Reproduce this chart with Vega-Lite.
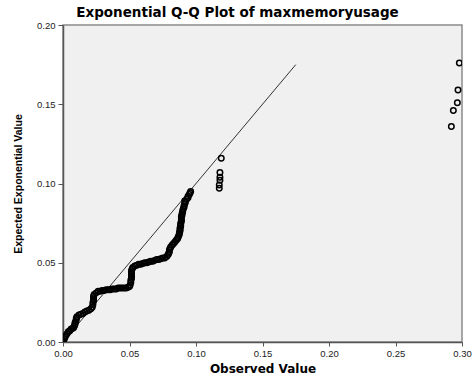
{
  "$schema": "https://vega.github.io/schema/vega-lite/v6.json",
  "width": 399,
  "height": 317,
  "autosize": {"type": "none"},
  "padding": {"left": 63, "top": 25, "right": 10, "bottom": 35},
  "background": "white",
  "title": {
    "text": "Exponential Q-Q Plot of maxmemoryusage",
    "font": "DejaVu Sans",
    "fontSize": 13.5,
    "fontWeight": "bold",
    "color": "#000000",
    "anchor": "middle",
    "dx": -25,
    "offset": 1
  },
  "config": {
    "view": {"fill": "#f0f0f0", "stroke": "#8a8a8a", "strokeWidth": 1.5},
    "axis": {
      "labelFont": "Liberation Sans",
      "labelFontSize": 9.5,
      "labelColor": "#222222",
      "titleFont": "DejaVu Sans",
      "titleFontSize": 12,
      "titleFontWeight": "bold",
      "titleColor": "#000000",
      "domainColor": "#555555",
      "domainWidth": 1.5,
      "tickColor": "#555555",
      "tickSize": 4,
      "grid": false
    }
  },
  "datasets": {
    "pts": [
      {"obs": 0.000, "exp": 0.000}, {"obs": 0.0005, "exp": 0.001}, {"obs": 0.001, "exp": 0.002}, {"obs": 0.0015, "exp": 0.003},
      {"obs": 0.002, "exp": 0.004}, {"obs": 0.003, "exp": 0.005}, {"obs": 0.004, "exp": 0.0065},
      {"obs": 0.005, "exp": 0.007}, {"obs": 0.006, "exp": 0.008}, {"obs": 0.007, "exp": 0.0085}, {"obs": 0.008, "exp": 0.009},
      {"obs": 0.0085, "exp": 0.010}, {"obs": 0.009, "exp": 0.011}, {"obs": 0.009, "exp": 0.012}, {"obs": 0.0095, "exp": 0.013},
      {"obs": 0.010, "exp": 0.014}, {"obs": 0.010, "exp": 0.015}, {"obs": 0.0105, "exp": 0.016},
      {"obs": 0.012, "exp": 0.017}, {"obs": 0.0135, "exp": 0.0175}, {"obs": 0.015, "exp": 0.018}, {"obs": 0.0165, "exp": 0.019},
      {"obs": 0.018, "exp": 0.0195}, {"obs": 0.0195, "exp": 0.020}, {"obs": 0.021, "exp": 0.021},
      {"obs": 0.022, "exp": 0.022}, {"obs": 0.0225, "exp": 0.0235}, {"obs": 0.0225, "exp": 0.025}, {"obs": 0.023, "exp": 0.026},
      {"obs": 0.023, "exp": 0.027}, {"obs": 0.023, "exp": 0.028}, {"obs": 0.023, "exp": 0.029}, {"obs": 0.0235, "exp": 0.030},
      {"obs": 0.025, "exp": 0.031}, {"obs": 0.0265, "exp": 0.032}, {"obs": 0.028, "exp": 0.032}, {"obs": 0.0295, "exp": 0.0325},
      {"obs": 0.031, "exp": 0.0325}, {"obs": 0.0325, "exp": 0.033}, {"obs": 0.034, "exp": 0.033}, {"obs": 0.0355, "exp": 0.033},
      {"obs": 0.037, "exp": 0.0335}, {"obs": 0.0385, "exp": 0.0335}, {"obs": 0.040, "exp": 0.0335}, {"obs": 0.0415, "exp": 0.034},
      {"obs": 0.043, "exp": 0.034}, {"obs": 0.0445, "exp": 0.034}, {"obs": 0.046, "exp": 0.034}, {"obs": 0.0475, "exp": 0.034},
      {"obs": 0.049, "exp": 0.0345}, {"obs": 0.050, "exp": 0.035},
      {"obs": 0.0505, "exp": 0.036}, {"obs": 0.051, "exp": 0.0375}, {"obs": 0.051, "exp": 0.039}, {"obs": 0.0515, "exp": 0.040},
      {"obs": 0.0515, "exp": 0.041}, {"obs": 0.0515, "exp": 0.042}, {"obs": 0.0515, "exp": 0.043}, {"obs": 0.0515, "exp": 0.044},
      {"obs": 0.0515, "exp": 0.045}, {"obs": 0.052, "exp": 0.046}, {"obs": 0.0525, "exp": 0.047},
      {"obs": 0.054, "exp": 0.048}, {"obs": 0.0555, "exp": 0.0485}, {"obs": 0.057, "exp": 0.049}, {"obs": 0.0585, "exp": 0.049},
      {"obs": 0.060, "exp": 0.0495}, {"obs": 0.0615, "exp": 0.050}, {"obs": 0.063, "exp": 0.050}, {"obs": 0.0645, "exp": 0.0505},
      {"obs": 0.066, "exp": 0.051}, {"obs": 0.0675, "exp": 0.051}, {"obs": 0.069, "exp": 0.0515}, {"obs": 0.0705, "exp": 0.052},
      {"obs": 0.072, "exp": 0.052}, {"obs": 0.0735, "exp": 0.0525}, {"obs": 0.075, "exp": 0.053}, {"obs": 0.0765, "exp": 0.053},
      {"obs": 0.078, "exp": 0.054},
      {"obs": 0.079, "exp": 0.055}, {"obs": 0.0795, "exp": 0.056}, {"obs": 0.080, "exp": 0.057}, {"obs": 0.080, "exp": 0.058},
      {"obs": 0.0805, "exp": 0.059}, {"obs": 0.081, "exp": 0.060},
      {"obs": 0.082, "exp": 0.061}, {"obs": 0.083, "exp": 0.062}, {"obs": 0.084, "exp": 0.063}, {"obs": 0.085, "exp": 0.064},
      {"obs": 0.086, "exp": 0.065}, {"obs": 0.0865, "exp": 0.066},
      {"obs": 0.087, "exp": 0.067}, {"obs": 0.0875, "exp": 0.068}, {"obs": 0.0875, "exp": 0.069}, {"obs": 0.088, "exp": 0.070},
      {"obs": 0.088, "exp": 0.071}, {"obs": 0.088, "exp": 0.072}, {"obs": 0.0885, "exp": 0.073}, {"obs": 0.0885, "exp": 0.074},
      {"obs": 0.0885, "exp": 0.075}, {"obs": 0.089, "exp": 0.076}, {"obs": 0.089, "exp": 0.077}, {"obs": 0.089, "exp": 0.078},
      {"obs": 0.089, "exp": 0.079}, {"obs": 0.0895, "exp": 0.080}, {"obs": 0.0895, "exp": 0.081}, {"obs": 0.090, "exp": 0.082},
      {"obs": 0.090, "exp": 0.083}, {"obs": 0.0905, "exp": 0.084}, {"obs": 0.091, "exp": 0.085}, {"obs": 0.091, "exp": 0.086},
      {"obs": 0.0915, "exp": 0.087}, {"obs": 0.092, "exp": 0.088}, {"obs": 0.0915, "exp": 0.089}, {"obs": 0.093, "exp": 0.090},
      {"obs": 0.094, "exp": 0.091}, {"obs": 0.094, "exp": 0.092}, {"obs": 0.095, "exp": 0.093}, {"obs": 0.0955, "exp": 0.094},
      {"obs": 0.096, "exp": 0.095},
      {"obs": 0.119, "exp": 0.116}, {"obs": 0.118, "exp": 0.107}, {"obs": 0.118, "exp": 0.104}, {"obs": 0.118, "exp": 0.102},
      {"obs": 0.1175, "exp": 0.099}, {"obs": 0.1175, "exp": 0.097},
      {"obs": 0.298, "exp": 0.176}, {"obs": 0.297, "exp": 0.159}, {"obs": 0.2965, "exp": 0.151}, {"obs": 0.2935, "exp": 0.146},
      {"obs": 0.292, "exp": 0.136}
    ],
    "ref": [
      {"obs": 0.0, "exp": 0.0},
      {"obs": 0.175, "exp": 0.175}
    ]
  },
  "layer": [
    {
      "data": {"name": "ref"},
      "mark": {"type": "line", "color": "#333333", "strokeWidth": 1, "clip": true},
      "encoding": {
        "x": {"field": "obs", "type": "quantitative"},
        "y": {"field": "exp", "type": "quantitative"}
      }
    },
    {
      "data": {"name": "pts"},
      "mark": {"type": "point", "shape": "circle", "filled": false, "stroke": "#000000", "strokeWidth": 1.5, "size": 30, "opacity": 1, "clip": true},
      "encoding": {
        "x": {
          "field": "obs", "type": "quantitative",
          "scale": {"domain": [0, 0.3], "nice": false, "zero": true},
          "axis": {"title": "Observed Value", "values": [0, 0.05, 0.1, 0.15, 0.2, 0.25, 0.3], "format": ".2f", "labelPadding": 2, "titlePadding": 6, "labelFlush": false}
        },
        "y": {
          "field": "exp", "type": "quantitative",
          "scale": {"domain": [0, 0.2], "nice": false, "zero": true},
          "axis": {"title": "Expected Exponential Value", "titleFont": "Liberation Sans", "titleFontSize": 10.5, "values": [0, 0.05, 0.1, 0.15, 0.2], "format": ".2f", "tickSize": 5, "labelPadding": 3, "titlePadding": 13, "labelFlush": false}
        }
      }
    }
  ]
}
